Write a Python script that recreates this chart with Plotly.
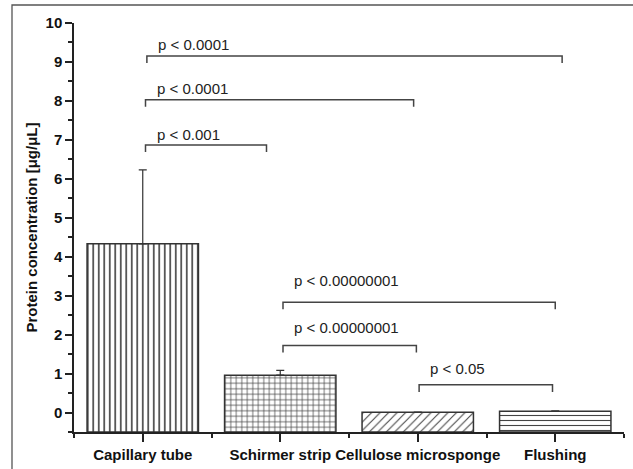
import plotly.graph_objects as go

# ---- data ----
categories = ["Capillary tube", "Schirmer strip", "Cellulose microsponge", "Flushing"]
cat_pos = [0, 1, 2, 3]
values = [4.33, 0.96, 0.01, 0.03]
err_up = [1.90, 0.12, 0.0, 0.01]
patterns = ["|", "+", "/", "-"]
pattern_sizes = [5.5, 5.5, 6, 5]
pattern_solidity = [0.3, 0.25, 0.18, 0.22]
axis_base = -0.5

# significance brackets
br_x0 = [0.03, 0.02, 0.02, 1.02, 1.02, 2.01]
br_x1 = [3.05, 1.97, 0.90, 3.00, 1.99, 2.98]
br_y = [9.15, 8.03, 6.87, 2.83, 1.72, 0.71]
br_leg = 0.18
br_text = ["p < 0.0001", "p < 0.0001", "p < 0.001",
           "p < 0.00000001", "p < 0.00000001", "p < 0.05"]
br_text_y = [9.44, 8.31, 7.15, 3.38, 2.18, 1.14]

y_ticks = list(range(0, 11))

FONT = "Liberation Sans, Arial, sans-serif"
INK = "#333333"

fig = go.Figure()

for i, cat in enumerate(categories):
    fig.add_trace(go.Bar(
        x=[cat_pos[i]],
        y=[values[i] - axis_base],
        base=[axis_base],
        width=0.81,
        name=cat,
        marker=dict(
            color="white",
            line=dict(color=INK, width=1.5),
            pattern=dict(shape=patterns[i], size=pattern_sizes[i], solidity=pattern_solidity[i],
                         fgcolor="#444444", bgcolor="white", fillmode="replace"),
        ),
        error_y=dict(type="data", symmetric=False, array=[err_up[i]], arrayminus=[0],
                     color=INK, thickness=1.2, width=4),
        showlegend=False,
        hoverinfo="skip",
    ))

for x0, x1, y, t, ty in zip(br_x0, br_x1, br_y, br_text, br_text_y):
    fig.add_trace(go.Scatter(
        x=[x0, x0, x1, x1], y=[y - br_leg, y, y, y - br_leg],
        mode="lines", line=dict(color="#444444", width=1.5),
        showlegend=False, hoverinfo="skip",
    ))
    fig.add_annotation(x=x0, y=ty, text=t, showarrow=False, xanchor="left",
                       yanchor="middle", xshift=9,
                       font=dict(family=FONT, size=15, color="#222222"))

# outer frame (cropped figure border)
fig.add_shape(type="rect", xref="paper", yref="paper",
              x0=(12 - 74) / 550, x1=1.3, y0=-0.3, y1=(469 - 5 - 37.3) / 408.7,
              line=dict(color="#555555", width=1.3), layer="below")

fig.update_layout(
    width=633, height=469,
    margin=dict(l=74, r=9, t=23, b=37),
    plot_bgcolor="white", paper_bgcolor="white",
    font=dict(family=FONT, color="#111111"),
    bargap=0.19,
)
fig.update_xaxes(
    range=[-0.5, 3.5], tickmode="array", tickvals=cat_pos, ticktext=categories,
    showline=True, linecolor="#222222", linewidth=1.5,
    ticks="outside", ticklen=8, tickwidth=1.5, tickcolor="#222222",
    tickfont=dict(family=FONT, size=15, weight="bold", color="#111111"),
    minor=dict(tick0=-0.5, dtick=1, ticks="outside", ticklen=4, tickwidth=1.5, tickcolor="#222222"),
    showgrid=False, zeroline=False, automargin=False,
)
fig.update_yaxes(
    range=[-0.5, 10], tickmode="array", tickvals=y_ticks,
    showline=True, linecolor="#222222", linewidth=1.5,
    ticks="outside", ticklen=7, tickwidth=1.5, tickcolor="#222222",
    tickfont=dict(family=FONT, size=15, weight="bold", color="#111111"),
    minor=dict(tick0=-0.5, dtick=0.5, ticks="outside", ticklen=4, tickwidth=1.5, tickcolor="#222222"),
    showgrid=False, zeroline=False, automargin=False,
    title=dict(text="Protein concentration [μg/μL]", standoff=4,
               font=dict(family=FONT, size=15, weight="bold", color="#111111")),
)

fig.write_html("out.html", config={"displayModeBar": False},
               post_script="document.body.style.margin='0';document.body.style.overflow='hidden';")
